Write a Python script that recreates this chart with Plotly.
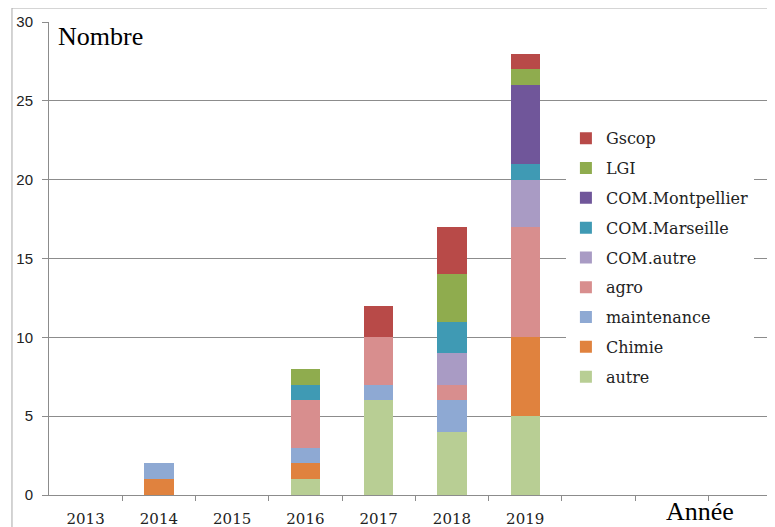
import plotly.graph_objects as go

# ---- data -------------------------------------------------------------
years = ["2013", "2014", "2015", "2016", "2017", "2018", "2019"]
n_slots = 10  # the axis keeps room for three empty years after 2019

# stacked from the bottom up
autre = [0, 0, 0, 1, 6, 4, 5]
chimie = [0, 1, 0, 1, 0, 0, 5]
maintenance = [0, 1, 0, 1, 1, 2, 0]
agro = [0, 0, 0, 3, 3, 1, 7]
com_autre = [0, 0, 0, 0, 0, 2, 3]
com_marseille = [0, 0, 0, 1, 0, 2, 1]
com_montpellier = [0, 0, 0, 0, 0, 0, 5]
lgi = [0, 0, 0, 1, 0, 3, 1]
gscop = [0, 0, 0, 0, 2, 3, 1]

series = [
    ("autre", autre, "#B8CE94"),
    ("Chimie", chimie, "#E0823E"),
    ("maintenance", maintenance, "#8EA9D3"),
    ("agro", agro, "#D88E8E"),
    ("COM.autre", com_autre, "#A99BC4"),
    ("COM.Marseille", com_marseille, "#3F9AB4"),
    ("COM.Montpellier", com_montpellier, "#70569A"),
    ("LGI", lgi, "#8FAC4E"),
    ("Gscop", gscop, "#B84A48"),
]

x_pos = list(range(len(years)))
grey = "#8C8C8C"

fig = go.Figure()
for i, (name, values, color) in enumerate(series):
    fig.add_trace(go.Bar(
        x=x_pos,
        y=values,
        name=name,
        legendgroup=name,
        legendrank=100 - i,  # legend lists the top of the stack first
        marker=dict(color=color, line=dict(width=0)),
    ))

# the page body adds an 8px offset, so margins are trimmed by 8px
fig.update_layout(
    barmode="stack",
    bargap=0.6,
    width=775,
    height=527,
    margin=dict(l=41, r=8, t=14, b=40, autoexpand=False),
    paper_bgcolor="white",
    plot_bgcolor="white",
    showlegend=True,
    legend=dict(
        traceorder="grouped",
        tracegroupgap=6,
        font=dict(family="DejaVu Serif", size=16, color="#222222"),
        bgcolor="white",
        x=0.712,
        xanchor="left",
        y=0.79,
        yanchor="top",
        itemwidth=30,
    ),
    annotations=[
        dict(text="Nombre", xref="paper", yref="paper", x=0.01, y=1.005,
             xanchor="left", yanchor="top", showarrow=False,
             font=dict(family="Liberation Serif", size=26, color="black")),
        dict(text="Année", xref="paper", yref="paper", x=0.897, y=-0.035,
             xanchor="center", yanchor="middle", showarrow=False,
             font=dict(family="Liberation Serif", size=26, color="black")),
    ],
    shapes=[
        dict(type="line", xref="paper", yref="paper", x0=-0.051, x1=1.1,
             y0=1.0296, y1=1.0296, line=dict(color="#A8A8A8", width=1)),
        dict(type="line", xref="paper", yref="paper", x0=-0.051, x1=-0.051,
             y0=-0.2, y1=1.0296, line=dict(color="#A8A8A8", width=1)),
    ],
)

fig.update_xaxes(
    range=[-0.5, 9.41],
    automargin=False,
    tickmode="array",
    tickvals=x_pos,
    ticktext=years,
    ticks="",
    ticklabelstandoff=10,
    tickfont=dict(family="DejaVu Serif", size=15, color="#222222"),
    showline=True,
    linecolor=grey,
    showgrid=False,
    zeroline=False,
    minor=dict(
        tickmode="array",
        tickvals=[i + 0.5 for i in range(n_slots - 1)],
        ticks="outside",
        ticklen=5,
        tickcolor=grey,
        showgrid=False,
    ),
)

fig.update_yaxes(
    range=[0, 30],
    automargin=False,
    dtick=5,
    ticks="outside",
    ticklen=6,
    tickcolor=grey,
    ticklabelstandoff=6,
    tickfont=dict(family="Liberation Sans", size=15, color="#222222"),
    showline=True,
    linecolor=grey,
    showgrid=True,
    gridcolor=grey,
    zeroline=False,
)

fig.write_html("out.html")
